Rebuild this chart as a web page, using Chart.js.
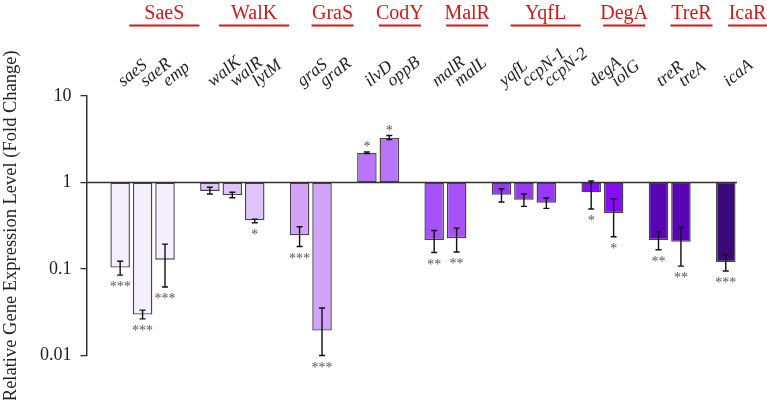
<!DOCTYPE html>
<html>
<head>
<meta charset="utf-8">
<script src="https://cdn.jsdelivr.net/npm/chart.js@4"></script>
<style>
  body { margin: 0; background: #fff; }
  #wrap { width: 767px; height: 400px; }
</style>
</head>
<body>
<div id="wrap"><canvas id="chart"></canvas></div>
<script>
// regulator groups and their genes
const groupNames = ['SaeS', 'WalK', 'GraS', 'CodY', 'MalR', 'YqfL', 'DegA', 'TreR', 'IcaR'];
const groupSizes = [3, 3, 2, 2, 2, 3, 2, 2, 1];
const groupColors = ['#f5eefd', '#dfc3fc', '#d2a3f9', '#b874fa', '#a652f8', '#9a38f7', '#860cf8', '#5a03b2', '#3b0a78'];

const genes = ['saeS', 'saeR', 'emp', 'walK', 'walR', 'lytM', 'graS', 'graR', 'ilvD', 'oppB',
    'malR', 'malL', 'yqfL', 'ccpN-1', 'ccpN-2', 'degA', 'iolG', 'treR', 'treA', 'icaA'];
// fold change
const values = [0.104, 0.0297, 0.128, 0.80, 0.716, 0.365, 0.246, 0.0194, 2.21, 3.28,
    0.217, 0.227, 0.722, 0.632, 0.583, 0.769, 0.443, 0.217, 0.206, 0.120];
const errLow = [0.085, 0.0265, 0.062, 0.735, 0.667, 0.343, 0.182, 0.0100, 2.16, 3.13,
    0.155, 0.157, 0.595, 0.530, 0.502, 0.493, 0.236, 0.167, 0.108, 0.095];
const errHigh = [0.123, 0.0335, 0.194, 0.88, 0.77, 0.377, 0.308, 0.0354, 2.26, 3.49,
    0.279, 0.297, 0.848, 0.736, 0.661, 1.04, 0.649, 0.269, 0.302, 0.146];
const stars = ['***', '***', '***', '', '', '*', '***', '***', '*', '*',
    '**', '**', '', '', '', '*', '*', '**', '**', '***'];

const yTicks = [0.01, 0.1, 1, 10];
const yTickLabels = ['0.01', '0.1', '1', '10'];
const yTitle = 'Relative Gene Expression Level (Fold Change)';

// Slots: one empty slot in front, then genes, with an empty slot between groups
const slotLabels = [''];
const slotData = [null];
const slotColors = ['#fff'];
const geneSlot = [];
const groupSlots = [];
let g = 0;
groupSizes.forEach((n, gi) => {
    const slots = [];
    for (let k = 0; k < n; k++) {
        geneSlot.push(slotLabels.length);
        slots.push(slotLabels.length);
        slotLabels.push(genes[g]);
        slotData.push([1, values[g]]);
        slotColors.push(groupColors[gi]);
        g++;
    }
    groupSlots.push(slots);
    if (gi < groupSizes.length - 1) {
        slotLabels.push(' ' + gi);
        slotData.push(null);
        slotColors.push('#fff');
    }
});

const SERIF = '"Liberation Serif", "Times New Roman", serif';

const extras = {
    id: 'extras',
    afterDatasetsDraw(chart) {
        const ctx = chart.ctx;
        const x = chart.scales.x;
        const y = chart.scales.y;
        const area = chart.chartArea;
        const slot = x.getPixelForValue(1) - x.getPixelForValue(0);

        // baseline at 1
        ctx.save();
        ctx.strokeStyle = '#333';
        ctx.lineWidth = 1.6;
        ctx.beginPath();
        ctx.moveTo(area.left, y.getPixelForValue(1));
        ctx.lineTo(area.right, y.getPixelForValue(1));
        ctx.stroke();

        // error bars + significance stars
        genes.forEach((gene, i) => {
            const px = x.getPixelForValue(geneSlot[i]);
            const lo = y.getPixelForValue(errLow[i]);
            const hi = y.getPixelForValue(errHigh[i]);
            ctx.strokeStyle = '#111';
            ctx.lineWidth = 1.4;
            ctx.beginPath();
            ctx.moveTo(px, lo); ctx.lineTo(px, hi);
            ctx.moveTo(px - 3, lo); ctx.lineTo(px + 3, lo);
            ctx.moveTo(px - 3, hi); ctx.lineTo(px + 3, hi);
            ctx.stroke();

            if (stars[i]) {
                ctx.fillStyle = '#555';
                ctx.font = '14px ' + SERIF;
                ctx.textAlign = 'center';
                ctx.textBaseline = 'alphabetic';
                const sy = values[i] < 1 ? lo + 16 : hi - 1;
                ctx.fillText(stars[i], px, sy);
            }

            // rotated gene name
            ctx.save();
            ctx.translate(px + 3, 87);
            ctx.rotate(-39 * Math.PI / 180);
            ctx.fillStyle = '#222';
            ctx.font = 'italic 17.5px ' + SERIF;
            ctx.textAlign = 'left';
            ctx.fillText(gene, 0, 0);
            ctx.restore();
        });

        // regulator headers in red with underline
        groupNames.forEach((name, gi) => {
            const s = groupSlots[gi];
            const mid = (x.getPixelForValue(s[0]) + x.getPixelForValue(s[s.length - 1])) / 2 + slot * 0.97;
            const w = Math.max(39, (s.length - 1) * slot * 1.25 + 14);
            ctx.fillStyle = '#d01818';
            ctx.font = '20px ' + SERIF;
            ctx.textAlign = 'center';
            ctx.fillText(name, mid, 18.5);
            ctx.strokeStyle = '#d01818';
            ctx.lineWidth = 2;
            ctx.beginPath();
            ctx.moveTo(mid - w / 2, 25.5);
            ctx.lineTo(mid + w / 2, 25.5);
            ctx.stroke();
        });
        ctx.restore();
    }
};

new Chart(document.getElementById('chart'), {
    type: 'bar',
    data: {
        labels: slotLabels,
        datasets: [{
            data: slotData,
            backgroundColor: slotColors,
            borderColor: '#444',
            borderWidth: 1.4,
            borderSkipped: false,
            categoryPercentage: 1,
            barPercentage: 0.87
        }]
    },
    options: {
        responsive: true,
        maintainAspectRatio: false,
        animation: false,
        layout: { padding: { top: 96, right: 30, bottom: 44.5, left: 0 } },
        plugins: { legend: { display: false }, tooltip: { enabled: false } },
        scales: {
            x: { display: false, offset: true },
            y: {
                type: 'logarithmic',
                min: 0.01,
                max: 10,
                afterBuildTicks: (scale) => { scale.ticks = yTicks.map(v => ({ value: v })); },
                afterFit: (scale) => { scale.width = 86.5; },
                ticks: {
                    color: '#222',
                    font: { family: SERIF, size: 18 },
                    padding: 9,
                    callback: (v) => yTickLabels[yTicks.indexOf(v)]
                },
                grid: { display: true, drawOnChartArea: false, drawTicks: true, tickLength: 6, color: '#333', lineWidth: 1.3 },
                border: { display: true, color: '#333', width: 1.5 },
                title: {
                    display: true,
                    text: yTitle,
                    color: '#222',
                    font: { family: SERIF, size: 18.5 },
                    padding: { top: 0, bottom: 0 }
                }
            }
        }
    },
    plugins: [extras]
});
</script>
</body>
</html>
